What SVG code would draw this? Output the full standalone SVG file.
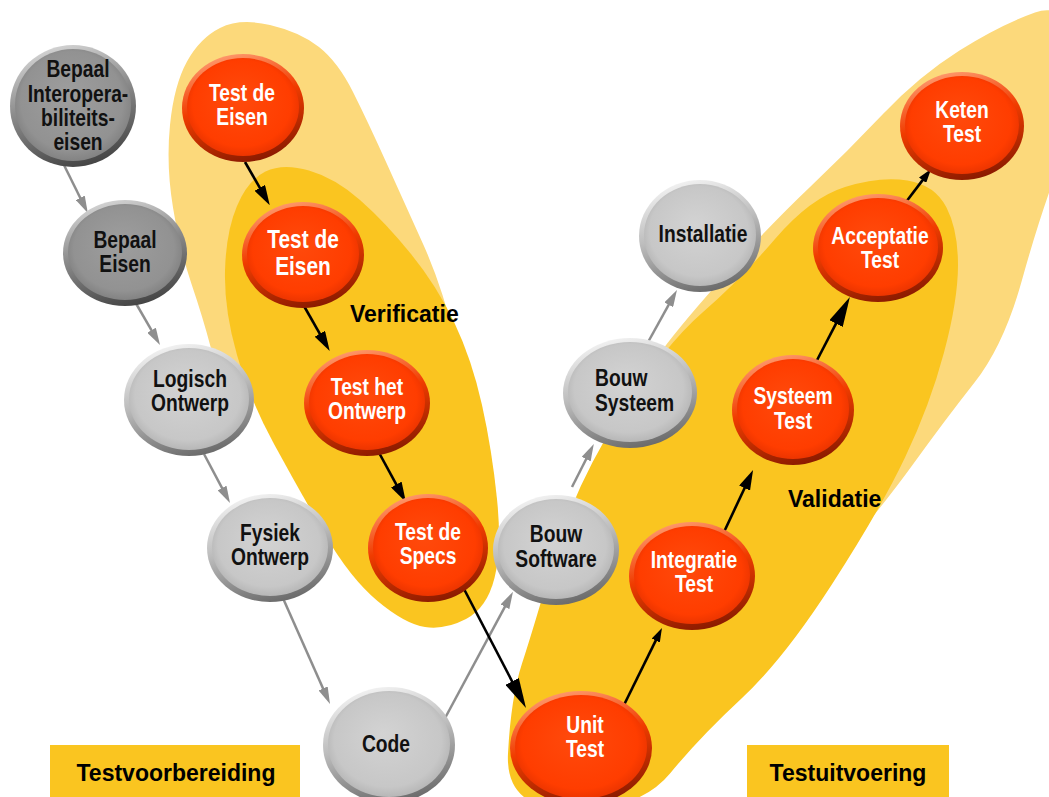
<svg xmlns="http://www.w3.org/2000/svg" width="1049" height="797" viewBox="0 0 1049 797">
  <defs>
    <style>
      .zone-light { fill: #FCD97B; }
      .zone-dark { fill: #FAC520; }
      .box { fill: #FAC520; }
      .rim-g { fill: url(#rimGray); }
      .face-g { fill: url(#faceGray); }
      .rim-d { fill: url(#rimDark); }
      .face-d { fill: url(#faceDark); }
      .rim-r { fill: url(#rimRed); }
      .face-r { fill: url(#faceRed); }
      .nt { font-family: "Liberation Sans", Arial, sans-serif; font-weight: bold; font-size: 23.5px; text-anchor: middle; }
      .dark-txt { fill: #111111; }
      .light-txt { fill: #FFFFFF; }
      .lbl { font-family: "Liberation Sans", Arial, sans-serif; font-weight: bold; font-size: 23px; fill: #000000; }
      .c-gray { stroke: #8E8E8E; stroke-width: 2.5; fill: none; }
      .c-black { stroke: #000000; stroke-width: 2.6; fill: none; }
    </style>
    <linearGradient id="rimGray" x1="0.3" y1="0" x2="0.6" y2="1">
      <stop offset="0" stop-color="#F4F4F4"/>
      <stop offset="0.45" stop-color="#BDBDBD"/>
      <stop offset="1" stop-color="#6A6A6A"/>
    </linearGradient>
    <radialGradient id="faceGray" cx="0.5" cy="0.48" r="0.55" fx="0.45" fy="0.4">
      <stop offset="0" stop-color="#D3D3D3"/>
      <stop offset="0.8" stop-color="#C7C7C7"/>
      <stop offset="1" stop-color="#B2B2B2"/>
    </radialGradient>
    <linearGradient id="rimDark" x1="0.3" y1="0" x2="0.6" y2="1">
      <stop offset="0" stop-color="#D6D6D6"/>
      <stop offset="0.45" stop-color="#8C8C8C"/>
      <stop offset="1" stop-color="#444444"/>
    </linearGradient>
    <radialGradient id="faceDark" cx="0.5" cy="0.48" r="0.55" fx="0.45" fy="0.4">
      <stop offset="0" stop-color="#9E9E9E"/>
      <stop offset="0.8" stop-color="#929292"/>
      <stop offset="1" stop-color="#7E7E7E"/>
    </radialGradient>
    <linearGradient id="rimRed" x1="0.3" y1="0" x2="0.6" y2="1">
      <stop offset="0" stop-color="#FF9C70"/>
      <stop offset="0.45" stop-color="#F03C00"/>
      <stop offset="1" stop-color="#8A1A00"/>
    </linearGradient>
    <radialGradient id="faceRed" cx="0.5" cy="0.48" r="0.55" fx="0.45" fy="0.4">
      <stop offset="0" stop-color="#FF4A0C"/>
      <stop offset="0.8" stop-color="#FF3D00"/>
      <stop offset="1" stop-color="#E63200"/>
    </radialGradient>
    <marker id="ah-gray" markerUnits="userSpaceOnUse" markerWidth="17" markerHeight="10" viewBox="0 0 17 10" refX="1" refY="5" orient="auto">
      <path d="M0,0 L17,5 L0,10 z" fill="#8E8E8E"/>
    </marker>
    <marker id="ah-sm" markerUnits="userSpaceOnUse" markerWidth="14" markerHeight="9" viewBox="0 0 14 9" refX="1" refY="4.5" orient="auto">
      <path d="M0,0 L14,4.5 L0,9 z" fill="#000000"/>
    </marker>
    <marker id="ah-md" markerUnits="userSpaceOnUse" markerWidth="20" markerHeight="12" viewBox="0 0 20 12" refX="1" refY="6" orient="auto">
      <path d="M0,0 L20,6 L0,12 z" fill="#000000"/>
    </marker>
    <marker id="ah-lg" markerUnits="userSpaceOnUse" markerWidth="30" markerHeight="15" viewBox="0 0 30 15" refX="1" refY="7.5" orient="auto">
      <path d="M0,0 L30,7.5 L0,15 z" fill="#000000"/>
    </marker>
  </defs>

  <rect x="0" y="0" width="1049" height="797" fill="#FFFFFF"/>

  <!-- background zones: verification (left) and validation (right) -->
  <g id="zones">
    <path class="zone-light" d="M 220 28 Q 240 18 270 25 Q 300 32 319 47 Q 338 62 353 92 Q 368 122 386.5 163 Q 405 204 423.5 245 Q 442 286 456 343 Q 470 400 445 470 Q 420 540 370 495 Q 320 450 269 412.5 Q 218 375 210.5 346.5 Q 203 318 191.5 284 Q 180 250 173 207.5 Q 166 165 170 125 Q 174 85 187 61.5 Q 200 38 220 28 Z"/>
    <path class="zone-dark" d="M 265.5 171.5 Q 283 163 309 170.5 Q 335 178 360 200 Q 385 222 411 254 Q 437 286 454.5 323 Q 472 360 482 405 Q 492 450 497 499 Q 502 548 494.5 578 Q 487 608 466 619 Q 445 630 425 627 Q 405 624 377.5 601 Q 350 578 324 533 Q 298 488 274 444 Q 250 400 237 355 Q 224 310 225 271 Q 226 232 237 206 Q 248 180 265.5 171.5 Z"/>
    <path class="zone-light" d="M 680 625 Q 600 600 620 490 Q 640 380 661.5 351 Q 683 322 727.5 272.5 Q 772 223 809.5 187.5 Q 847 152 883 114 Q 919 76 959.5 50.5 Q 1000 25 1035 12.5 Q 1070 0 1075 55 Q 1080 110 1060 162.5 Q 1040 215 1022 280 Q 1004 345 974.5 382.5 Q 945 420 912.5 465 Q 880 510 820 580 Q 760 650 680 625 Z"/>
    <path class="zone-dark" d="M 572.5 810 Q 505 810 508 753.5 Q 511 697 522 663.5 Q 533 630 554 557.5 Q 575 485 620 415 Q 665 345 702.5 312.5 Q 740 280 775 239 Q 810 198 845 187 Q 880 176 907.5 180.5 Q 935 185 946.5 207.5 Q 958 230 958 265 Q 958 300 944 352.5 Q 930 405 905 457.5 Q 880 510 831.5 585 Q 783 660 741.5 698.5 Q 700 737 670 773.5 Q 640 810 572.5 810 Z"/>
  </g>

  <!-- phase labels -->
  <g id="phase-prep">
    <rect class="box" x="50" y="745" width="250" height="52"/>
    <text class="lbl" x="176" y="781" text-anchor="middle">Testvoorbereiding</text>
  </g>
  <g id="phase-exec">
    <rect class="box" x="747" y="745" width="202" height="52"/>
    <text class="lbl" x="848" y="781" text-anchor="middle">Testuitvoering</text>
  </g>
  <text id="label-verificatie" class="lbl" x="350" y="322">Verificatie</text>
  <text id="label-validatie" class="lbl" x="788" y="507">Validatie</text>

  <!-- connectors -->
  <g id="connectors">
    <line class="c-gray" x1="62" y1="161" x2="80.7" y2="198.7" marker-end="url(#ah-gray)"/>
    <line class="c-gray" x1="134" y1="300" x2="152" y2="331.1" marker-end="url(#ah-gray)"/>
    <line class="c-gray" x1="204" y1="454" x2="222.5" y2="488.9" marker-end="url(#ah-gray)"/>
    <line class="c-gray" x1="282" y1="596" x2="323.5" y2="689.4" marker-end="url(#ah-gray)"/>
    <line class="c-gray" x1="444" y1="720" x2="505.4" y2="605.9" marker-end="url(#ah-gray)"/>
    <line class="c-gray" x1="572" y1="487" x2="586.6" y2="458.2" marker-end="url(#ah-gray)"/>
    <line class="c-gray" x1="647" y1="344" x2="669.2" y2="303.9" marker-end="url(#ah-gray)"/>

    <line class="c-black" x1="245" y1="162" x2="260.3" y2="188.7" marker-end="url(#ah-md)"/>
    <line class="c-black" x1="304" y1="306" x2="320.3" y2="334.6" marker-end="url(#ah-md)"/>
    <line class="c-black" x1="377" y1="449" x2="396.8" y2="485.4" marker-end="url(#ah-md)"/>
    <line class="c-black" x1="464" y1="589" x2="512.6" y2="682.3" marker-end="url(#ah-lg)"/>
    <line class="c-black" x1="622" y1="709" x2="656.2" y2="639.7" marker-end="url(#ah-sm)"/>
    <line class="c-black" x1="724" y1="532" x2="745" y2="487.2" marker-end="url(#ah-md)"/>
    <line class="c-black" x1="814" y1="366" x2="836.5" y2="322.7" marker-end="url(#ah-lg)"/>
    <line class="c-black" x1="906" y1="202" x2="923.2" y2="179.4" marker-end="url(#ah-sm)"/>
  </g>

  <!-- design-side nodes -->
  <g id="n-bepaal-interop">
    <ellipse class="rim-d" cx="73" cy="106" rx="63" ry="61"/>
    <ellipse class="face-d" cx="73" cy="105" rx="58" ry="56"/>
    <text class="nt dark-txt" transform="translate(78 0) scale(0.82 1)"><tspan x="0" y="77">Bepaal</tspan><tspan x="0" y="102">Interopera-</tspan><tspan x="0" y="126">biliteits-</tspan><tspan x="0" y="150">eisen</tspan></text>
  </g>
  <g id="n-bepaal-eisen">
    <ellipse class="rim-d" cx="125" cy="253" rx="62" ry="53"/>
    <ellipse class="face-d" cx="125" cy="252" rx="57" ry="48"/>
    <text class="nt dark-txt" transform="translate(125 0) scale(0.82 1)"><tspan x="0" y="248">Bepaal</tspan><tspan x="0" y="272">Eisen</tspan></text>
  </g>
  <g id="n-logisch-ontwerp">
    <ellipse class="rim-g" cx="189" cy="400" rx="65" ry="56"/>
    <ellipse class="face-g" cx="189" cy="399" rx="60" ry="51"/>
    <text class="nt dark-txt" transform="translate(190 0) scale(0.82 1)"><tspan x="0" y="387">Logisch</tspan><tspan x="0" y="411">Ontwerp</tspan></text>
  </g>
  <g id="n-fysiek-ontwerp">
    <ellipse class="rim-g" cx="270" cy="548" rx="63" ry="54"/>
    <ellipse class="face-g" cx="270" cy="547" rx="58" ry="49"/>
    <text class="nt dark-txt" transform="translate(270 0) scale(0.82 1)"><tspan x="0" y="541">Fysiek</tspan><tspan x="0" y="565">Ontwerp</tspan></text>
  </g>
  <g id="n-code">
    <ellipse class="rim-g" cx="389" cy="745" rx="66" ry="58"/>
    <ellipse class="face-g" cx="389" cy="744" rx="61" ry="53"/>
    <text class="nt dark-txt" transform="translate(386 0) scale(0.82 1)"><tspan x="0" y="752">Code</tspan></text>
  </g>
  <g id="n-bouw-software">
    <ellipse class="rim-g" cx="556" cy="550" rx="63" ry="55"/>
    <ellipse class="face-g" cx="556" cy="549" rx="58" ry="50"/>
    <text class="nt dark-txt" transform="translate(556 0) scale(0.82 1)"><tspan x="0" y="542">Bouw</tspan><tspan x="0" y="567">Software</tspan></text>
  </g>
  <g id="n-bouw-systeem">
    <ellipse class="rim-g" cx="630" cy="393" rx="67" ry="55"/>
    <ellipse class="face-g" cx="630" cy="392" rx="62" ry="50"/>
    <text class="nt dark-txt" transform="translate(595 0) scale(0.82 1)" style="text-anchor:start"><tspan x="0" y="386">Bouw</tspan><tspan x="0" y="411">Systeem</tspan></text>
  </g>
  <g id="n-installatie">
    <ellipse class="rim-g" cx="700" cy="236" rx="61" ry="56"/>
    <ellipse class="face-g" cx="700" cy="235" rx="56" ry="51"/>
    <text class="nt dark-txt" transform="translate(703 0) scale(0.82 1)"><tspan x="0" y="242">Installatie</tspan></text>
  </g>

  <!-- test nodes -->
  <g id="n-test-eisen-1">
    <ellipse class="rim-r" cx="243" cy="108" rx="61" ry="54"/>
    <ellipse class="face-r" cx="243" cy="107" rx="56" ry="49"/>
    <text class="nt light-txt" transform="translate(242 0) scale(0.82 1)"><tspan x="0" y="101">Test de</tspan><tspan x="0" y="125">Eisen</tspan></text>
  </g>
  <g id="n-test-eisen-2">
    <ellipse class="rim-r" cx="303" cy="255" rx="61" ry="53"/>
    <ellipse class="face-r" cx="303" cy="254" rx="56" ry="48"/>
    <text class="nt light-txt" transform="translate(303 0) scale(0.82 1)" style="font-size:25.5px"><tspan x="0" y="248">Test de</tspan><tspan x="0" y="275">Eisen</tspan></text>
  </g>
  <g id="n-test-ontwerp">
    <ellipse class="rim-r" cx="367" cy="403" rx="63" ry="53"/>
    <ellipse class="face-r" cx="367" cy="402" rx="58" ry="48"/>
    <text class="nt light-txt" transform="translate(367 0) scale(0.82 1)"><tspan x="0" y="395">Test het</tspan><tspan x="0" y="419">Ontwerp</tspan></text>
  </g>
  <g id="n-test-specs">
    <ellipse class="rim-r" cx="428" cy="548" rx="60" ry="54"/>
    <ellipse class="face-r" cx="428" cy="547" rx="55" ry="49"/>
    <text class="nt light-txt" transform="translate(428 0) scale(0.82 1)"><tspan x="0" y="540">Test de</tspan><tspan x="0" y="564">Specs</tspan></text>
  </g>
  <g id="n-unit-test">
    <ellipse class="rim-r" cx="581" cy="748" rx="71" ry="57"/>
    <ellipse class="face-r" cx="581" cy="747" rx="66" ry="52"/>
    <text class="nt light-txt" transform="translate(585 0) scale(0.82 1)"><tspan x="0" y="733">Unit</tspan><tspan x="0" y="757">Test</tspan></text>
  </g>
  <g id="n-integratie-test">
    <ellipse class="rim-r" cx="692" cy="576" rx="63" ry="54"/>
    <ellipse class="face-r" cx="692" cy="575" rx="58" ry="49"/>
    <text class="nt light-txt" transform="translate(694 0) scale(0.82 1)"><tspan x="0" y="568">Integratie</tspan><tspan x="0" y="592">Test</tspan></text>
  </g>
  <g id="n-systeem-test">
    <ellipse class="rim-r" cx="793" cy="410" rx="61" ry="55"/>
    <ellipse class="face-r" cx="793" cy="409" rx="56" ry="50"/>
    <text class="nt light-txt" transform="translate(793 0) scale(0.82 1)"><tspan x="0" y="404">Systeem</tspan><tspan x="0" y="429">Test</tspan></text>
  </g>
  <g id="n-acceptatie-test">
    <ellipse class="rim-r" cx="878" cy="248" rx="65" ry="54"/>
    <ellipse class="face-r" cx="878" cy="247" rx="60" ry="49"/>
    <text class="nt light-txt" transform="translate(880 0) scale(0.82 1)"><tspan x="0" y="244">Acceptatie</tspan><tspan x="0" y="268">Test</tspan></text>
  </g>
  <g id="n-keten-test">
    <ellipse class="rim-r" cx="962" cy="126" rx="62" ry="54"/>
    <ellipse class="face-r" cx="962" cy="125" rx="57" ry="49"/>
    <text class="nt light-txt" transform="translate(962 0) scale(0.82 1)"><tspan x="0" y="118">Keten</tspan><tspan x="0" y="142">Test</tspan></text>
  </g>
</svg>
